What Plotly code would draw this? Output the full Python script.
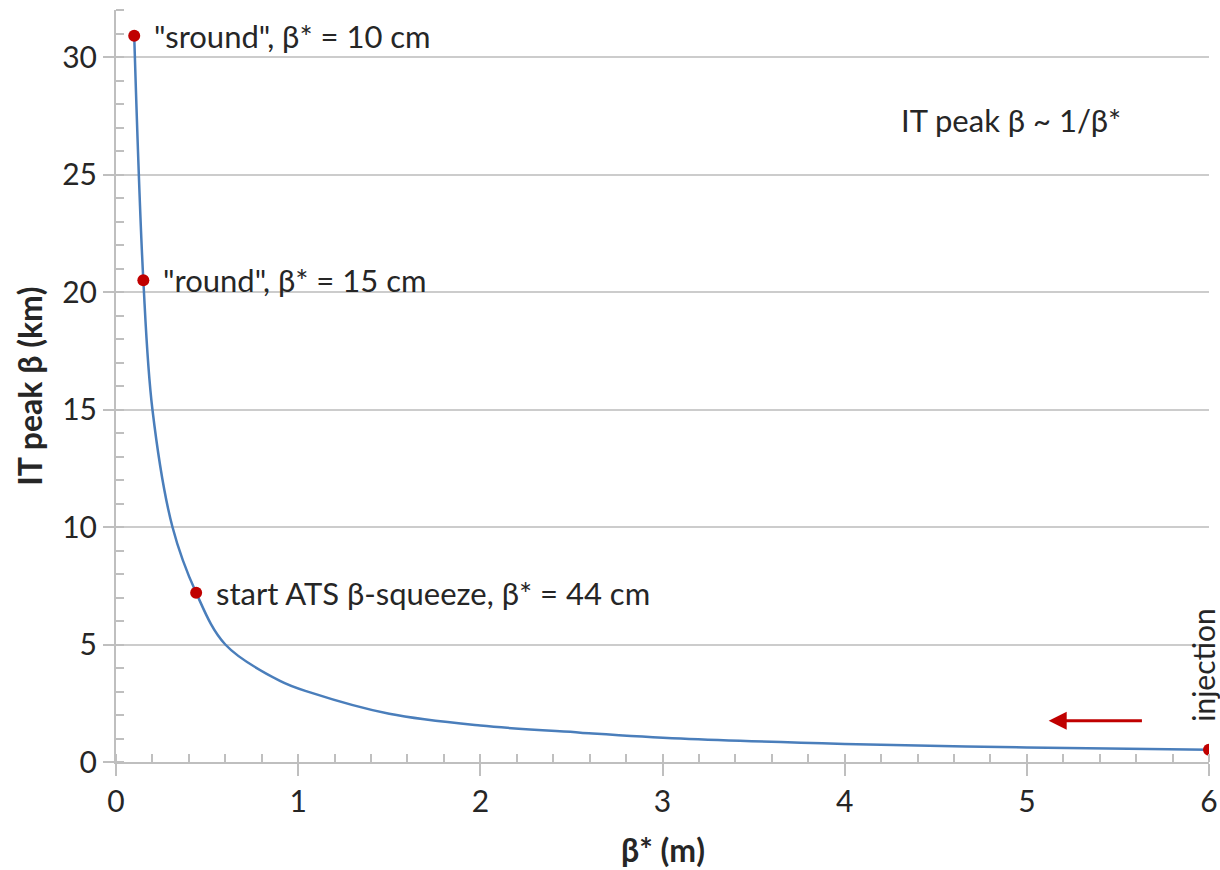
import plotly.graph_objects as go

# IT peak beta versus beta* along the squeeze
beta_star = [0.10, 0.15, 0.20, 0.31, 0.44, 0.60, 0.90, 1.07, 1.50, 2.0, 2.55, 3.1, 4.0, 5.0, 6.0]
it_peak = [30.9, 20.5, 15.0, 10.0, 7.2, 5.0, 3.45, 2.95, 2.05, 1.55, 1.25, 1.0, 0.77, 0.62, 0.52]

# Highlighted optics
marker_x = [0.10, 0.15, 0.44, 6.0]
marker_y = [30.9, 20.5, 7.2, 0.52]
marker_labels = ['"sround", β* = 10 cm', '"round", β* = 15 cm',
                 'start ATS β-squeeze, β* = 44 cm', 'injection']

x_ticks = [0, 1, 2, 3, 4, 5, 6]
y_ticks = [0, 5, 10, 15, 20, 25, 30]

FONT = "Lato, Carlito, Calibri, sans-serif"
GRID = "#cccccc"
AXIS = "#bfbfbf"
TEXT = "#262626"
LABEL_SIZE = 31
TICK_SIZE = 30
TITLE_SIZE = 32

fig = go.Figure()
fig.add_trace(go.Scatter(
    x=beta_star, y=it_peak, mode="lines",
    line=dict(color="#4a7ebb", width=2.5, shape="spline", smoothing=1.0),
    hoverinfo="skip", showlegend=False))
fig.add_trace(go.Scatter(
    x=marker_x, y=marker_y, mode="markers",
    marker=dict(color="#c00000", size=12),
    showlegend=False))

# Labels beside the highlighted points
for x, y, t in zip(marker_x[:3], marker_y[:3], marker_labels[:3]):
    fig.add_annotation(x=x, y=y, text=t, showarrow=False, xanchor="left",
                       yanchor="middle", xshift=18,
                       font=dict(family=FONT, size=LABEL_SIZE, color=TEXT))
fig.add_annotation(x=marker_x[3], y=marker_y[3], text=marker_labels[3],
                   showarrow=False, textangle=-90, xanchor="center",
                   yanchor="bottom", yshift=26, xshift=-6,
                   font=dict(family=FONT, size=LABEL_SIZE - 1, color=TEXT))

fig.add_annotation(x=5.12, y=1.76, ax=5.64, ay=1.76, axref="x", ayref="y",
                   xref="x", yref="y", text="", showarrow=True,
                   arrowhead=2, arrowsize=1.2, arrowwidth=3,
                   arrowcolor="#c00000")

fig.add_annotation(x=4.3, y=27.3, text="IT peak β ~ 1/β*", showarrow=False,
                   xanchor="left", yanchor="middle",
                   font=dict(family=FONT, size=LABEL_SIZE, color=TEXT))

# x-axis title, below the tick labels
fig.add_annotation(x=0.5, y=0, xref="paper", yref="paper", yshift=-66,
                   text="<b>β* (m)</b>", showarrow=False,
                   xanchor="center", yanchor="top",
                   font=dict(family=FONT, size=TITLE_SIZE, color=TEXT))

fig.update_xaxes(
    range=[0, 6], tickvals=x_ticks, showgrid=False, zeroline=False,
    showline=True, linecolor=AXIS, linewidth=2, automargin=False,
    ticks="outside", ticklen=12, tickwidth=1.5, tickcolor=AXIS,
    minor=dict(ticks="inside", dtick=0.2, ticklen=8, tickwidth=1.5,
               tickcolor=AXIS, showgrid=False),
    tickfont=dict(family=FONT, size=TICK_SIZE, color=TEXT))
fig.update_yaxes(
    range=[0, 32], tickvals=y_ticks, showgrid=True, gridcolor=GRID,
    gridwidth=1.5, zeroline=False, automargin=False,
    showline=True, linecolor=AXIS, linewidth=2,
    ticks="outside", ticklen=11, tickwidth=1.5, tickcolor=AXIS,
    ticksuffix="\u00a0\u00a0",
    minor=dict(ticks="inside", dtick=1, ticklen=8, tickwidth=1.5,
               tickcolor=AXIS, showgrid=False),
    tickfont=dict(family=FONT, size=TICK_SIZE, color=TEXT),
    title=dict(text="<b>IT peak β (km)</b>", standoff=10,
               font=dict(family=FONT, size=TITLE_SIZE, color=TEXT)))

fig.update_layout(
    width=1220, height=870,
    margin=dict(l=116, r=11, t=10, b=108),
    plot_bgcolor="white", paper_bgcolor="white",
    font=dict(family=FONT),
)

fig.write_html("out.html")
